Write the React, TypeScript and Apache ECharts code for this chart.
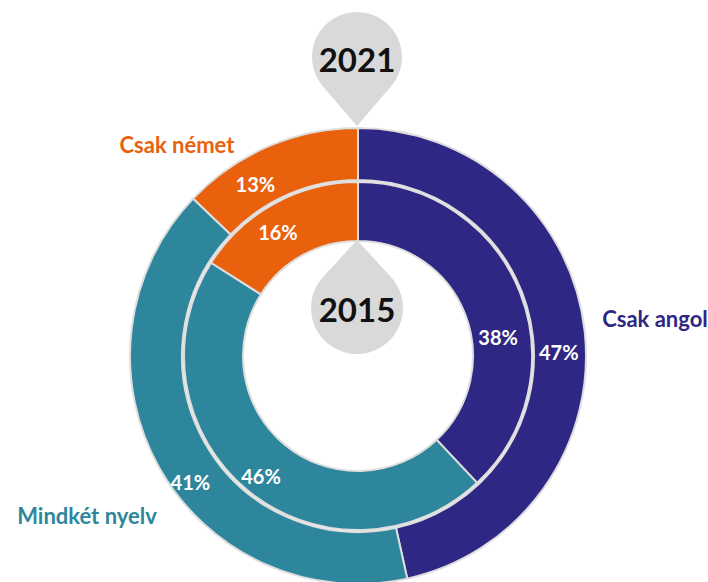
import React, { useEffect, useRef } from "react";
import * as echarts from "echarts";

const categories = ["Csak angol", "Mindkét nyelv", "Csak német"];
const values2021 = [47, 41, 13];
const values2015 = [38, 46, 16];
const yearLabels = ["2021", "2015"];

const colors = ["#2E2783", "#2E869D", "#E9610C"];
const outerLabelShift = [
  [-3, 18],
  [11, 25],
  [-22, 16],
];
const innerLabelShift = [
  [3, 35],
  [-3, 6],
  [-9, 5],
];

const FONT = "Lato, 'Open Sans', 'Liberation Sans', sans-serif";
const CX = 358;
const CY = 356;
const BUBBLE = "#D9D9D9";

function teardrop(cx: number, cy: number, r: number, d: number, up: boolean, z: number) {
  const phi = Math.acos(r / d);
  const s = up ? -1 : 1;
  const px = r * Math.sin(phi);
  const py = s * r * Math.cos(phi);
  return [
    {
      type: "circle",
      z,
      shape: { cx, cy, r },
      style: { fill: BUBBLE },
      silent: true,
    },
    {
      type: "polygon",
      z,
      shape: {
        points: [
          [cx - px, cy + py],
          [cx + px, cy + py],
          [cx, cy + s * d],
        ],
      },
      style: { fill: BUBBLE },
      silent: true,
    },
  ];
}

export default function App() {
  const ref = useRef<HTMLDivElement>(null);

  useEffect(() => {
    if (!ref.current) return;
    const chart = echarts.init(ref.current, undefined, { renderer: "svg" });

    const labelCommon = {
      show: true,
      position: "inside",
      formatter: "{c}%",
      color: "#FFFFFF",
      fontFamily: FONT,
      fontWeight: "bold",
      fontSize: 20,
      textBorderWidth: 0,
    };
    const itemStyle = { borderColor: "#DEDEDE", borderWidth: 2 };

    const makeData = (vals: number[]) =>
      vals.map((v, i) => ({
        name: categories[i],
        value: v,
        itemStyle: { color: colors[i] },
      }));

    const catText = (i: number, x: number, y: number) => ({
      type: "text",
      z: 11,
      x,
      y,
      style: {
        text: categories[i],
        fill: colors[i],
        font: `bold 22px ${FONT}`,
        align: "center",
        verticalAlign: "middle",
      },
    });

    const yearText = (i: number, x: number, y: number) => ({
      type: "text",
      z: 11,
      x,
      y,
      style: {
        text: yearLabels[i],
        fill: "#111111",
        font: `bold 33px ${FONT}`,
        align: "center",
        verticalAlign: "middle",
      },
    });

    chart.setOption({
      animation: false,
      backgroundColor: "#FFFFFF",
      series: [
        {
          type: "pie",
          name: yearLabels[1],
          center: [CX, CY],
          radius: [115, 174],
          startAngle: 90,
          clockwise: true,
          silent: true,
          itemStyle,
          label: labelCommon,
          labelLine: { show: false },
          labelLayout: (p: any) => ({
            dx: innerLabelShift[p.dataIndex][0],
            dy: innerLabelShift[p.dataIndex][1],
          }),
          data: makeData(values2015),
        },
        {
          type: "pie",
          name: yearLabels[0],
          center: [CX, CY],
          radius: [176, 228],
          startAngle: 90,
          clockwise: true,
          silent: true,
          itemStyle,
          label: labelCommon,
          labelLine: { show: false },
          labelLayout: (p: any) => ({
            dx: outerLabelShift[p.dataIndex][0],
            dy: outerLabelShift[p.dataIndex][1],
          }),
          data: makeData(values2021),
        },
      ],
      graphic: [
        ...teardrop(357, 57, 45, 69, false, 10),
        ...teardrop(357, 308, 46, 68, true, 10),
        yearText(0, 357, 59),
        yearText(1, 357, 309),
        catText(2, 177, 144),
        catText(0, 655, 318),
        catText(1, 87, 515),
      ],
    });

    return () => chart.dispose();
  }, []);

  return (
    <div
      ref={ref}
      style={{ position: "fixed", left: 0, top: 0, width: 708, height: 582 }}
    />
  );
}
